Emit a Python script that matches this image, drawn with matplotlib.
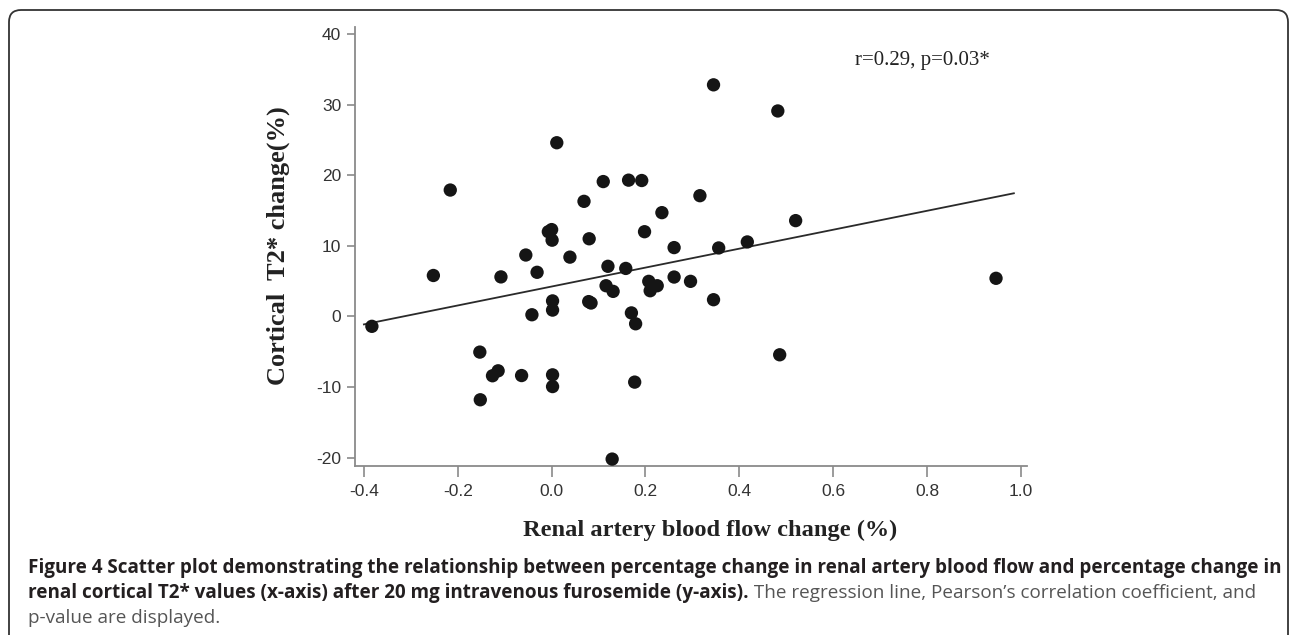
import numpy as np
import matplotlib
matplotlib.use("Agg")
import matplotlib.pyplot as plt
from matplotlib.patches import FancyBboxPatch
from matplotlib.transforms import IdentityTransform

# 数据: 肾动脉血流变化 vs 皮质 T2* 变化
flow_change = [-0.383, -0.252, -0.216, -0.153, -0.152, -0.126, -0.114, -0.108,
               -0.064, -0.055, -0.042, -0.031, -0.007, 0.000, 0.001, 0.002,
               0.002, 0.002, 0.002, 0.011, 0.039, 0.069, 0.080, 0.079,
               0.084, 0.110, 0.116, 0.120, 0.129, 0.131, 0.158, 0.164,
               0.170, 0.177, 0.179, 0.192, 0.198, 0.207, 0.210, 0.225,
               0.235, 0.261, 0.261, 0.296, 0.316, 0.345, 0.345, 0.356,
               0.417, 0.482, 0.486, 0.520, 0.947]
t2_change = [-1.4, 5.8, 17.9, -5.05, -11.8, -8.4, -7.7, 5.6,
             -8.37, 8.7, 0.24, 6.25, 12.0, 12.3, 10.8, 2.2,
             0.9, -8.27, -9.93, 24.6, 8.4, 16.3, 11.0, 2.1,
             1.9, 19.1, 4.35, 7.1, -20.2, 3.55, 6.8, 19.3,
             0.5, -9.3, -1.04, 19.25, 12.0, 4.97, 3.64, 4.35,
             14.7, 9.75, 5.58, 4.97, 17.1, 32.8, 2.37, 9.7,
             10.55, 29.1, -5.43, 13.57, 5.4]
fit_range = [-0.40, 0.985]
x_ticks = [-0.4, -0.2, 0.0, 0.2, 0.4, 0.6, 0.8, 1.0]
y_ticks = [-20, -10, 0, 10, 20, 30, 40]
stat_text = "r=0.29, p=0.03*"
x_label = "Renal artery blood flow change (%)"
y_label = "Cortical  T2* change(%)"
cap1 = ("Figure 4 Scatter plot demonstrating the relationship between percentage "
        "change in renal artery blood flow and percentage change in")
cap2_bold = "renal cortical T2* values (x-axis) after 20 mg intravenous furosemide (y-axis)."
cap2_reg = " The regression line, Pearson\u2019s correlation coefficient, and"
cap3 = "p-value are displayed."

W, H = 1290, 635
fig = plt.figure(figsize=(W / 100, H / 100), dpi=100)
fig.patch.set_facecolor("white")

# 外框 (圆角)
frame = FancyBboxPatch((9, -60), 1279, 685, boxstyle="round,pad=0,rounding_size=12",
                       transform=IdentityTransform(), fill=False,
                       edgecolor="#333333", linewidth=1.3)
fig.patches.append(frame)

ax = fig.add_axes([355 / W, 1 - 466 / H, (1027 - 355) / W, (466 - 27) / H])
ax.set_xlim(-0.419, 1.013)
ax.set_ylim(-21.18, 40.99)

ax.scatter(flow_change, t2_change, s=92, color="#151515", edgecolors="none", zorder=3)

# 回归线
k, b = np.polyfit(flow_change, t2_change, 1)
fx = np.array(fit_range)
ax.plot(fx, k * fx + b, color="#2a2a2a", linewidth=1.3, zorder=2)

for side in ["top", "right"]:
    ax.spines[side].set_visible(False)
for side in ["left", "bottom"]:
    ax.spines[side].set_color("#8a8a8a")
    ax.spines[side].set_linewidth(1.3)

ax.set_xticks(x_ticks)
ax.set_xticklabels(["%.1f" % v for v in x_ticks])
ax.set_yticks(y_ticks)
ax.set_yticklabels([str(v) for v in y_ticks])
ax.tick_params(axis="x", length=8, width=1.2, color="#8a8a8a", pad=5)
ax.tick_params(axis="y", length=6, width=1.2, color="#8a8a8a", pad=4)
for lab in ax.get_xticklabels() + ax.get_yticklabels():
    lab.set_family("Liberation Sans")
    lab.set_fontsize(12.5)
    lab.set_color("#333333")

fig.text(922 / W, 1 - 60 / H, stat_text, family="Liberation Serif", fontsize=15,
         color="#222222", ha="center", va="center")
fig.text(710 / W, 1 - 530 / H, x_label, family="Liberation Serif", weight="bold",
         fontsize=17.6, color="#222222", ha="center", va="center")
fig.text(278 / W, 1 - 246 / H, y_label, family="Liberation Serif", weight="bold",
         fontsize=19, color="#222222", ha="center", va="center", rotation=90)

# 图注
cap_font = ["Open Sans", "DejaVu Sans"]
t1 = fig.text(28 / W, 1 - 568 / H, cap1, family=cap_font, weight="bold", fontsize=13,
              color="#231f20", ha="left", va="center")
fig.canvas.draw()
w1 = t1.get_window_extent().width
fs = 13 * (1268 - 28) / w1
t1.set_fontsize(fs)
t2 = fig.text(28 / W, 1 - 593 / H, cap2_bold, family=cap_font, weight="bold", fontsize=fs,
              color="#231f20", ha="left", va="center")
ax.annotate(cap2_reg, xy=(1, 0.5), xycoords=t2, va="center", ha="left",
            family=cap_font, fontsize=fs, color="#555555", annotation_clip=False)
fig.text(28 / W, 1 - 618 / H, cap3, family=cap_font, fontsize=fs,
         color="#555555", ha="left", va="center")

fig.savefig("out.png", dpi=100, facecolor="white")
